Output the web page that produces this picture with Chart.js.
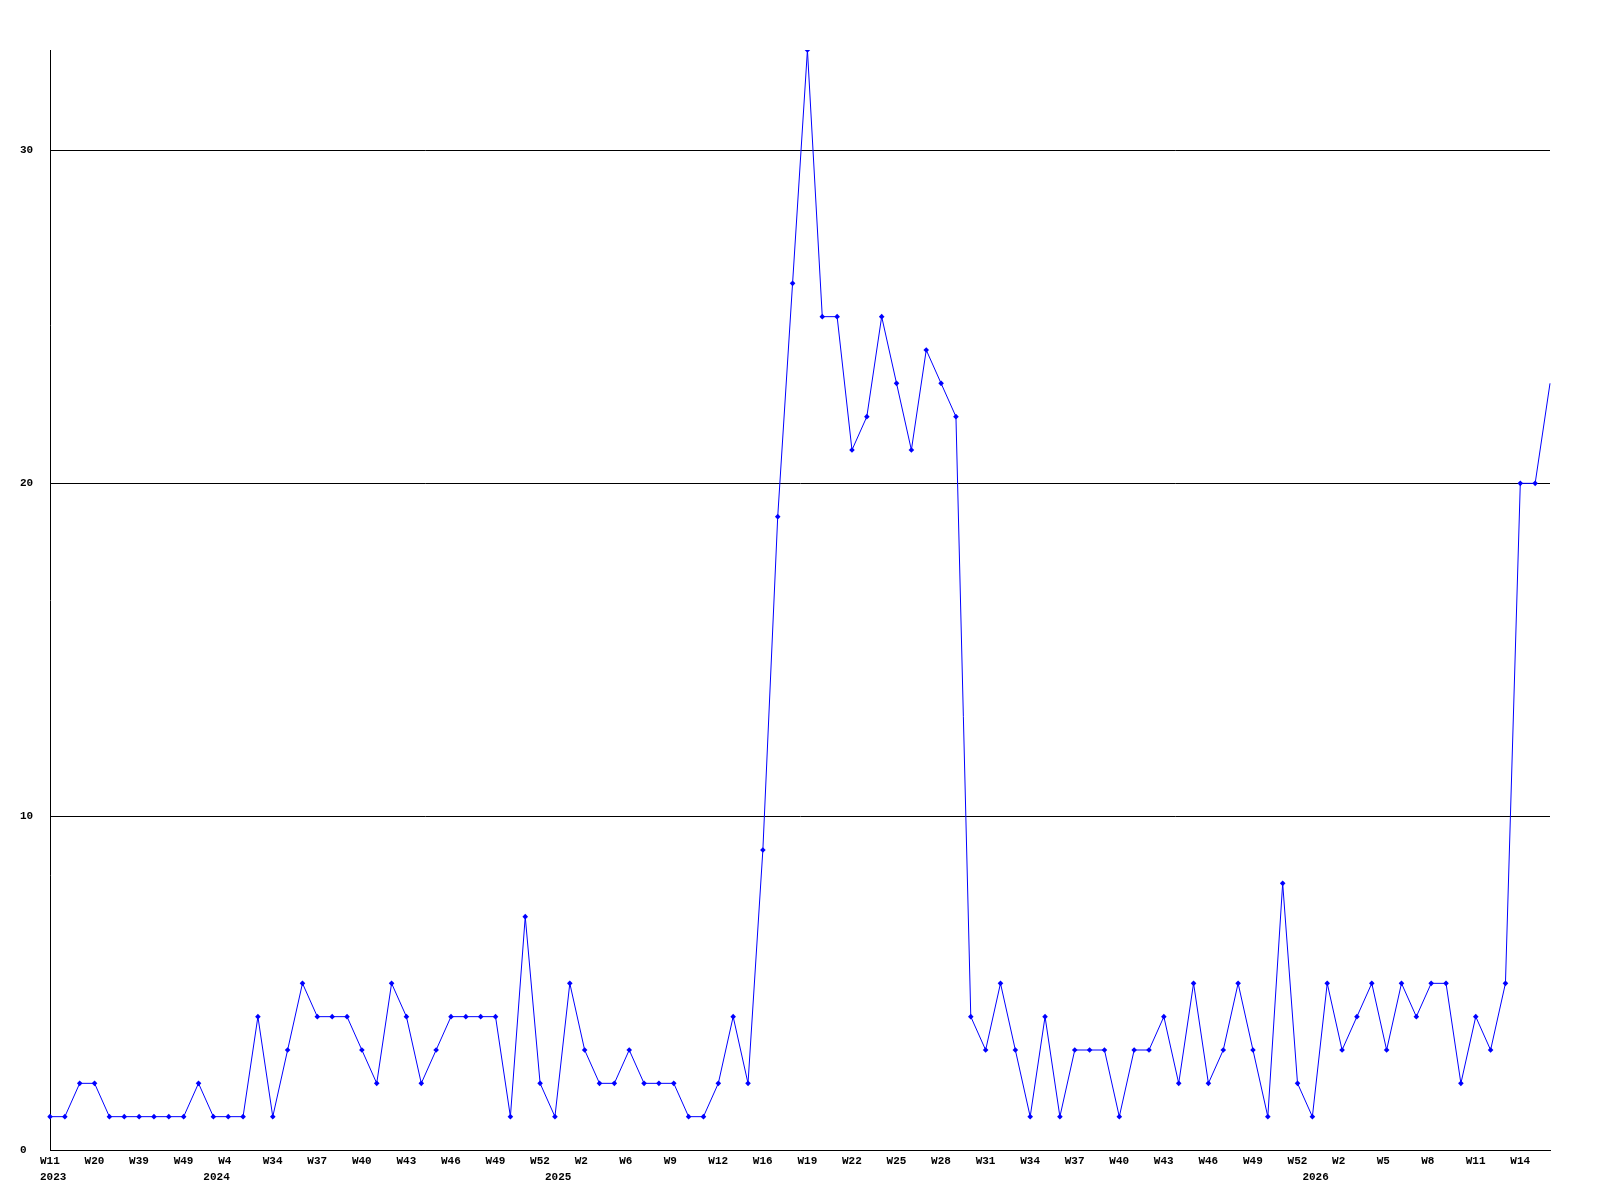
<!DOCTYPE html>
<html>
<head>
<meta charset="utf-8">
<script src="https://cdn.jsdelivr.net/npm/chart.js@4.4.1/dist/chart.umd.min.js"></script>
<style>
  html, body { margin: 0; padding: 0; background: #ffffff; }
  #wrap { width: 1600px; height: 1200px; }
</style>
</head>
<body>
<div id="wrap"><canvas id="c" width="1600" height="1200"></canvas></div>
<script>
// Week label of every point (only every third is printed on the axis)
const weeks = [
  'W11','W14','W17','W20','W25','W33','W39','W42','W45','W49','W51','W1','W4','W17','W28',
  'W34','W35','W36','W37','W38','W39','W40','W41','W42','W43','W44','W45','W46','W47','W48',
  'W49','W50','W51','W52','W0','W1','W2','W3','W5','W6','W7','W8','W9','W10','W11',
  'W12','W13','W15','W16','W17','W18','W19','W20','W21','W22','W23','W24','W25','W26','W27',
  'W28','W29','W30','W31','W32','W33','W34','W35','W36','W37','W38','W39','W40','W41','W42',
  'W43','W44','W45','W46','W47','W48','W49','W50','W51','W52','W0','W1','W2','W3','W4',
  'W5','W6','W7','W8','W9','W10','W11','W12','W13','W14','W15','W16'
];
// Year of every point
const years = [
  2023,2023,2023,2023,2023,2023,2023,2023,2023,2023,2023,2024,2024,2024,2024,
  2024,2024,2024,2024,2024,2024,2024,2024,2024,2024,2024,2024,2024,2024,2024,
  2024,2024,2024,2024,2025,2025,2025,2025,2025,2025,2025,2025,2025,2025,2025,
  2025,2025,2025,2025,2025,2025,2025,2025,2025,2025,2025,2025,2025,2025,2025,
  2025,2025,2025,2025,2025,2025,2025,2025,2025,2025,2025,2025,2025,2025,2025,
  2025,2025,2025,2025,2025,2025,2025,2025,2025,2025,2026,2026,2026,2026,2026,
  2026,2026,2026,2026,2026,2026,2026,2026,2026,2026,2026,2026
];
// Series values
const counts = [
  1,1,2,2,1,1,1,1,1,1,2,1,1,1,4,
  1,3,5,4,4,4,3,2,5,4,2,3,4,4,4,
  4,1,7,2,1,5,3,2,2,3,2,2,2,1,1,
  2,4,2,9,19,26,33,25,25,21,22,25,23,21,24,
  23,22,4,3,5,3,1,4,1,3,3,3,1,3,3,
  4,2,5,2,3,5,3,1,8,2,1,5,3,4,5,
  3,5,4,5,5,2,4,3,5,20,20,23
];
// Y axis tick values
const yTicks = [0, 10, 20, 30];
const yMax = 33;
const labelEvery = 3;

const FONT = { family: '"Liberation Mono", "DejaVu Sans Mono", monospace', size: 11, weight: 'bold', lineHeight: 1.4 };

new Chart(document.getElementById('c'), {
  type: 'line',
  data: {
    labels: weeks.map((w, i) => i),
    datasets: [{
      data: counts,
      borderColor: '#0000ff',
      backgroundColor: '#0000ff',
      borderWidth: 1,
      tension: 0,
      fill: false,
      pointStyle: 'rectRot',
      pointRadius: (ctx) => (ctx.dataIndex === counts.length - 1 ? 0 : 2.8),
      pointBorderWidth: 0,
      pointBackgroundColor: '#0000ff',
      pointHoverRadius: 2.8
    }]
  },
  options: {
    responsive: false,
    animation: false,
    events: [],
    layout: { padding: { left: 20, right: 50, top: 50, bottom: 0 } },
    plugins: { legend: { display: false }, tooltip: { enabled: false }, title: { display: false } },
    scales: {
      x: {
        type: 'category',
        offset: false,
        grid: { display: false, drawTicks: false },
        border: { display: true, color: '#000000', width: 1 },
        afterFit: function (scale) { scale.height = 50; },
        ticks: {
          autoSkip: false,
          maxRotation: 0,
          minRotation: 0,
          align: 'start',
          labelOffset: -10,
          padding: 4,
          color: '#000000',
          font: FONT,
          callback: function (v, i) {
            const showWeek = i % labelEvery === 0;
            const showYear = i === 0 || years[i] !== years[i - 1];
            const w = showWeek ? weeks[i] : '';
            if (showYear) return [w, String(years[i])];
            return w;
          }
        }
      },
      y: {
        min: 0,
        max: yMax,
        grid: { display: true, color: '#000000', lineWidth: 1, drawTicks: false },
        border: { display: true, color: '#000000', width: 1 },
        afterBuildTicks: function (scale) { scale.ticks = yTicks.map(v => ({ value: v })); },
        afterFit: function (scale) { scale.width = 30; },
        ticks: {
          crossAlign: 'far',
          padding: 0,
          color: '#000000',
          font: FONT
        }
      }
    }
  },
  plugins: [{
    id: 'bg',
    beforeDraw(chart) {
      const ctx = chart.ctx;
      ctx.save();
      ctx.fillStyle = '#ffffff';
      ctx.fillRect(0, 0, chart.width, chart.height);
      ctx.restore();
    }
  }]
});
</script>
</body>
</html>
